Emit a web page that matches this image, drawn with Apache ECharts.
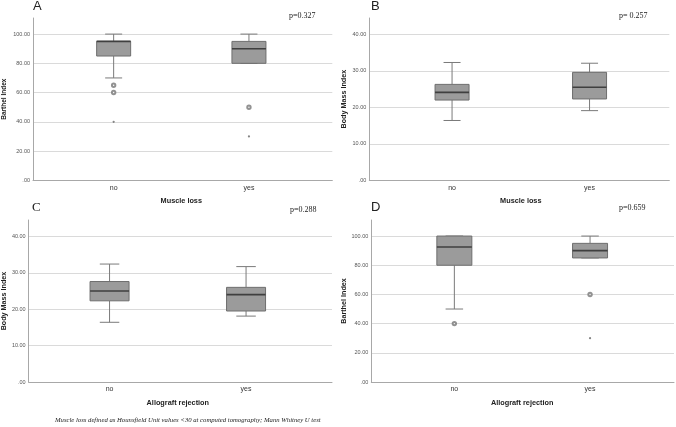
<!DOCTYPE html>
<html><head><meta charset="utf-8">
<script src="https://cdn.jsdelivr.net/npm/echarts@6/dist/echarts.min.js"></script>
<style>html,body{margin:0;padding:0;background:#fff}#c{width:676px;height:427px}</style>
</head><body><div id="c"></div>
<script>
// ---- data ----
const categories = ['no', 'yes'];
// [min, Q1, median, Q3, max]
const boxA = [[70, 85, 95, 95, 100], [80, 80, 90, 95, 100]];
const circlesA = [[0, 65], [0, 60], [1, 50]];
const starsA = [[0, 40], [1, 30]];
const boxB = [[16.4, 22.0, 24.1, 26.3, 32.3], [19.1, 22.3, 25.5, 29.6, 32.1]];
const circlesB = [];
const starsB = [];
const boxC = [[16.4, 22.3, 25.0, 27.6, 32.4], [18.1, 19.5, 24.0, 26.0, 31.7]];
const circlesC = [];
const starsC = [];
const boxD = [[50, 80, 92.5, 100, 100], [85, 85, 90, 95, 100]];
const circlesD = [[0, 40], [1, 60]];
const starsD = [[1, 30]];
const panelLetters = ['A', 'B', 'C', 'D'];
const pValues = ['p=0.327', 'p= 0.257', 'p=0.288', 'p=0.659'];
const yNames = ['Barthel Index', 'Body Mass Index', 'Body Mass Index', 'Barthel Index'];
const xNames = ['Muscle loss', 'Muscle loss', 'Allograft rejection', 'Allograft rejection'];
const footnote = 'Muscle loss defined as Hounsfield Unit values <30 at computed tomography; Mann Whitney U test';

// ---- layout ----
const panels = [
  {box: boxA, circ: circlesA, star: starsA, outer: {left: 32.3, top: 18, width: 300, height: 162.3}, inner: {left: 46, width: 270.6}, yMax: 111, yInt: 20, bw: 34, yNameSize: 6.5, yNameGap: 25,
   letter: {x: 33, y: 0, font: 'Liberation Sans'}, p: {x: 289, y: 12}},
  {box: boxB, circ: circlesB, star: starsB, outer: {left: 369.3, top: 18, width: 300, height: 162.3}, inner: {left: 383.3, width: 275}, yMax: 44.5, yInt: 10, bw: 34, yNameSize: 7.2, yNameGap: 22,
   letter: {x: 371, y: 0, font: 'Liberation Sans'}, p: {x: 619, y: 12}},
  {box: boxC, circ: circlesC, star: starsC, outer: {left: 27.7, top: 220, width: 304.3, height: 162}, inner: {left: 41.3, width: 273}, yMax: 44.5, yInt: 10, bw: 39, yNameSize: 7.2, yNameGap: 20,
   letter: {x: 32, y: 201, font: 'Liberation Serif'}, p: {x: 290, y: 206}},
  {box: boxD, circ: circlesD, star: starsD, outer: {left: 371.3, top: 220, width: 302.7, height: 162}, inner: {left: 386.5, width: 271.4}, yMax: 111, yInt: 20, bw: 35, yNameSize: 7.2, yNameGap: 23,
   letter: {x: 371, y: 201, font: 'Liberation Sans'}, p: {x: 619, y: 204}}
];

const SANS = 'Liberation Sans';
const grid = [], xAxis = [], yAxis = [], series = [], graphic = [];

panels.forEach((P, i) => {
  const o = P.outer;
  grid.push({left: o.left, top: o.top, width: o.width, height: o.height});
  grid.push({left: P.inner.left, top: o.top, width: P.inner.width, height: o.height});
  const gO = 2 * i, gI = 2 * i + 1;
  xAxis.push({type: 'value', gridIndex: gO, min: 0, max: 1, axisLabel: {show: false}, axisTick: {show: false}, splitLine: {show: false},
    axisLine: {show: true, onZero: false, lineStyle: {color: '#a8a8a8', width: 1}}});
  xAxis.push({type: 'category', gridIndex: gI, data: categories, boundaryGap: true,
    axisLine: {show: false}, axisTick: {show: false},
    axisLabel: {color: '#333', fontFamily: SANS, fontSize: 7, margin: 4},
    name: xNames[i], nameLocation: 'middle', nameGap: 17,
    nameTextStyle: {color: '#222', fontFamily: SANS, fontSize: 7.3, fontWeight: 'bold'}});
  yAxis.push({type: 'value', gridIndex: gO, min: 0, max: P.yMax, interval: P.yInt,
    axisLine: {show: true, lineStyle: {color: '#a8a8a8', width: 1}}, axisTick: {show: false},
    axisLabel: {color: '#555', fontFamily: SANS, fontSize: 5.5, margin: 3, showMaxLabel: false,
      formatter: v => v === 0 ? '.00' : v.toFixed(2)},
    splitLine: {show: true, showMaxLine: false, lineStyle: {color: '#dadada', width: 1}},
    name: yNames[i], nameLocation: 'middle', nameGap: P.yNameGap, nameRotate: 90,
    nameTextStyle: {color: '#222', fontFamily: SANS, fontSize: P.yNameSize, fontWeight: 'bold'}});
  yAxis.push({type: 'value', gridIndex: gI, min: 0, max: P.yMax, show: false});

  const bw = P.bw;
  series.push({
    type: 'custom', xAxisIndex: gI, yAxisIndex: gI,
    data: P.box.map((b, k) => [k].concat(b)),
    encode: {x: 0, y: [1, 2, 3, 4, 5]},
    renderItem: function (params, api) {
      const x = api.value(0);
      const pMin = api.coord([x, api.value(1)]);
      const pQ1 = api.coord([x, api.value(2)]);
      const pMd = api.coord([x, api.value(3)]);
      const pQ3 = api.coord([x, api.value(4)]);
      const pMax = api.coord([x, api.value(5)]);
      const cx = pMin[0], hw = bw / 2, cw = bw / 4;
      const wStyle = {stroke: '#7a7a7a', lineWidth: 1};
      return {type: 'group', children: [
        {type: 'line', shape: {x1: cx, y1: pQ3[1], x2: cx, y2: pMax[1]}, style: wStyle},
        {type: 'line', shape: {x1: cx - cw, y1: pMax[1], x2: cx + cw, y2: pMax[1]}, style: wStyle},
        {type: 'line', shape: {x1: cx, y1: pQ1[1], x2: cx, y2: pMin[1]}, style: wStyle},
        {type: 'line', shape: {x1: cx - cw, y1: pMin[1], x2: cx + cw, y2: pMin[1]}, style: wStyle},
        {type: 'rect', shape: {x: cx - hw, y: pQ3[1], width: bw, height: pQ1[1] - pQ3[1]},
          style: {fill: '#9b9b9b', stroke: '#6e6e6e', lineWidth: 1}},
        {type: 'line', shape: {x1: cx - hw, y1: pMd[1], x2: cx + hw, y2: pMd[1]},
          style: {stroke: '#3f3f3f', lineWidth: 1.6}}
      ]};
    },
    silent: true, animation: false
  });
  series.push({type: 'scatter', xAxisIndex: gI, yAxisIndex: gI, data: P.circ, symbol: 'emptyCircle', symbolSize: 3.4,
    itemStyle: {color: '#777', borderColor: '#777', borderWidth: 0.8}, silent: true, animation: false});
  series.push({type: 'scatter', xAxisIndex: gI, yAxisIndex: gI, data: P.star, symbol: 'circle', symbolSize: 2.2,
    itemStyle: {color: '#666'}, silent: true, animation: false});

  graphic.push({type: 'text', left: P.letter.x, top: P.letter.y,
    style: {text: panelLetters[i], font: '13px "' + P.letter.font + '"', fill: '#222'}});
  graphic.push({type: 'text', left: P.p.x, top: P.p.y,
    style: {text: pValues[i], font: '8px "Liberation Serif"', fill: '#222'}});
});
graphic.push({type: 'text', left: 55, top: 417,
  style: {text: footnote, font: 'italic 6.7px "Liberation Serif"', fill: '#222'}});

const chart = echarts.init(document.getElementById('c'), null, {renderer: 'canvas'});
chart.setOption({animation: false, backgroundColor: '#fff', grid, xAxis, yAxis, series, graphic});
</script></body></html>
